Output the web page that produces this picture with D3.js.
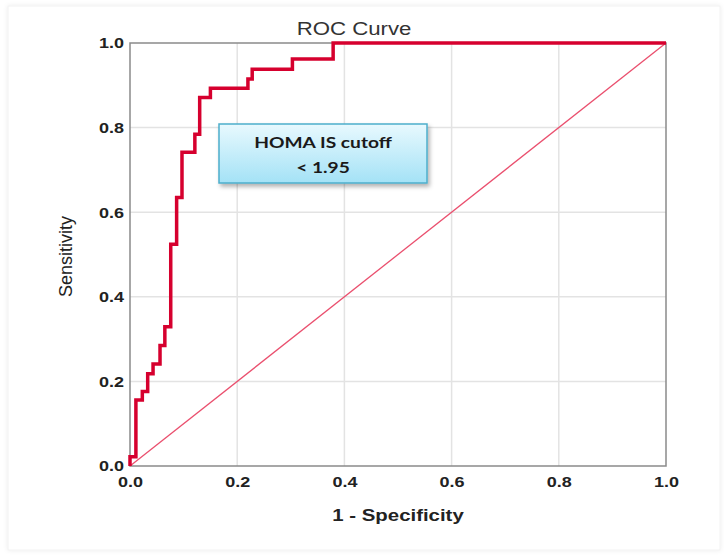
<!DOCTYPE html>
<html>
<head>
<meta charset="utf-8">
<script src="https://cdn.jsdelivr.net/npm/d3@7"></script>
<style>
  body { margin: 0; background: #fff; }
  .tick text { font-family: "Liberation Sans", Arial, sans-serif; font-weight: bold; font-size: 15px; fill: #222; }
</style>
</head>
<body>
<script>
// ROC points (1 - specificity, sensitivity)
var fpr = [0, 0, 0.011, 0.023, 0.033, 0.043, 0.056, 0.065, 0.076, 0.087, 0.097, 0.121, 0.130, 0.150, 0.220, 0.228, 0.303, 0.379, 1.0];
var tpr = [0, 0.022, 0.156, 0.176, 0.218, 0.241, 0.285, 0.329, 0.524, 0.635, 0.742, 0.784, 0.871, 0.893, 0.915, 0.938, 0.962, 1.0, 1.0];
var refLine = [0, 1];
var tickValues = [0, 0.2, 0.4, 0.6, 0.8, 1.0];
var noteLines = ['HOMA IS cutoff', '< 1.95'];

var svgWidth = 724, svgHeight = 556;
var margin = {top: 43, right: 58, bottom: 90, left: 130};
var w = svgWidth - margin.left - margin.right;
var h = svgHeight - margin.top - margin.bottom;
// the source picture is a bit wider than tall, text looks stretched
var stretch = 'scale(1.2,1)';

var svg = d3.select('body').append('svg')
    .attr('width', svgWidth)
    .attr('height', svgHeight);

var defs = svg.append('defs');
var cardShadow = defs.append('filter').attr('id', 'cardShadow')
    .attr('x', '-5%').attr('y', '-5%').attr('width', '110%').attr('height', '110%');
cardShadow.append('feDropShadow').attr('dx', 0).attr('dy', 0)
    .attr('stdDeviation', 2).attr('flood-color', '#000').attr('flood-opacity', 0.08);

var boxShadow = defs.append('filter').attr('id', 'boxShadow')
    .attr('x', '-10%').attr('y', '-20%').attr('width', '130%').attr('height', '160%');
boxShadow.append('feDropShadow').attr('dx', 2).attr('dy', 3)
    .attr('stdDeviation', 2).attr('flood-color', '#000').attr('flood-opacity', 0.3);

var grad = defs.append('linearGradient').attr('id', 'boxFill')
    .attr('x1', 0).attr('y1', 0).attr('x2', 0).attr('y2', 1);
grad.append('stop').attr('offset', '0%').attr('stop-color', '#e8f9fe');
grad.append('stop').attr('offset', '100%').attr('stop-color', '#a4e2f6');

// white card behind everything
svg.append('rect')
    .attr('x', 8).attr('y', 6)
    .attr('width', 712).attr('height', 544)
    .attr('fill', '#fff')
    .attr('stroke', '#f2f2f2')
    .attr('filter', 'url(#cardShadow)');

var g = svg.append('g')
    .attr('transform', 'translate(' + margin.left + ',' + margin.top + ')');

var xScale = d3.scaleLinear().domain([0, 1]).range([0, w]);
var yScale = d3.scaleLinear().domain([0, 1]).range([h, 0]);

// grid
g.append('g').selectAll('line.vgrid')
    .data(tickValues.slice(1, -1))
    .enter().append('line')
    .attr('x1', function(d) { return xScale(d); })
    .attr('x2', function(d) { return xScale(d); })
    .attr('y1', 0).attr('y2', h)
    .attr('stroke', '#e3e3e3').attr('stroke-width', 1.5);

g.append('g').selectAll('line.hgrid')
    .data(tickValues.slice(1, -1))
    .enter().append('line')
    .attr('y1', function(d) { return yScale(d); })
    .attr('y2', function(d) { return yScale(d); })
    .attr('x1', 0).attr('x2', w)
    .attr('stroke', '#e3e3e3').attr('stroke-width', 1.5);

// frame
g.append('rect')
    .attr('x', 0).attr('y', 0)
    .attr('width', w).attr('height', h)
    .attr('fill', 'none')
    .attr('stroke', '#8a8a8a').attr('stroke-width', 1.5);

// axes
var bottomAxis = d3.axisBottom(xScale)
    .tickValues(tickValues).tickSize(0).tickPadding(10)
    .tickFormat(d3.format('.1f'));
g.append('g')
    .attr('transform', 'translate(0,' + h + ')')
    .call(bottomAxis)
    .call(function(a) { a.select('.domain').remove(); })
    .selectAll('text').attr('transform', stretch);

var leftAxis = d3.axisLeft(yScale)
    .tickValues(tickValues).tickSize(0).tickPadding(5)
    .tickFormat(d3.format('.1f'));
g.append('g')
    .call(leftAxis)
    .call(function(a) { a.select('.domain').remove(); })
    .selectAll('text').attr('transform', stretch);

// reference diagonal
g.append('line')
    .attr('x1', xScale(refLine[0])).attr('y1', yScale(refLine[0]))
    .attr('x2', xScale(refLine[1])).attr('y2', yScale(refLine[1]))
    .attr('stroke', '#ea4f6e').attr('stroke-width', 1.3);

// ROC staircase
var rocData = fpr.map(function(d, i) { return {x: d, y: tpr[i]}; });
var line = d3.line()
    .x(function(d) { return xScale(d.x); })
    .y(function(d) { return yScale(d.y); })
    .curve(d3.curveStepAfter);

g.append('path')
    .datum(rocData)
    .attr('d', line)
    .attr('fill', 'none')
    .attr('stroke', '#d6002e')
    .attr('stroke-width', 3.5)
    .attr('stroke-linejoin', 'miter');

// titles
svg.append('text')
    .attr('transform', 'translate(354,35) ' + stretch)
    .attr('text-anchor', 'middle')
    .style('font-family', '"Liberation Sans", Arial, sans-serif')
    .style('font-size', '18.5px')
    .style('fill', '#333')
    .text('ROC Curve');

svg.append('text')
    .attr('transform', 'translate(' + (margin.left + w / 2) + ',521) ' + stretch)
    .attr('text-anchor', 'middle')
    .style('font-family', '"Liberation Sans", Arial, sans-serif')
    .style('font-size', '17px')
    .style('font-weight', 'bold')
    .style('fill', '#222')
    .text('1 - Specificity');

svg.append('text')
    .attr('transform', 'translate(72,' + (margin.top + h / 2 + 2) + ') rotate(-90)')
    .attr('text-anchor', 'middle')
    .style('font-family', '"Liberation Sans", Arial, sans-serif')
    .style('font-size', '18px')
    .style('fill', '#222')
    .text('Sensitivity');

// annotation box
var note = svg.append('g').attr('transform', 'translate(219,124)');
note.append('rect')
    .attr('width', 208).attr('height', 59)
    .attr('fill', 'url(#boxFill)')
    .attr('stroke', '#4eaecb').attr('stroke-width', 1.5)
    .attr('filter', 'url(#boxShadow)');
note.selectAll('text')
    .data(noteLines)
    .enter().append('text')
    .attr('transform', function(d, i) { return 'translate(104,' + (24 + i * 25) + ') ' + stretch; })
    .attr('text-anchor', 'middle')
    .style('font-family', 'Lato, "Open Sans", sans-serif')
    .style('font-size', '16px')
    .style('font-weight', 'bold')
    .style('fill', '#1a1a1a')
    .text(function(d) { return d; });
</script>
</body>
</html>
